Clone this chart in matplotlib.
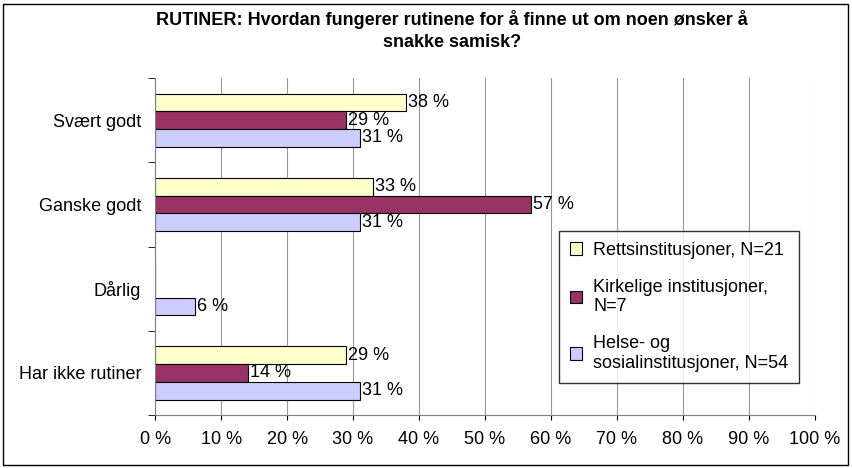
import matplotlib
matplotlib.use("Agg")
import matplotlib.pyplot as plt
from matplotlib.patches import Rectangle

categories = ["Svært godt", "Ganske godt", "Dårlig", "Har ikke rutiner"]
series = ["Rettsinstitusjoner, N=21", "Kirkelige institusjoner,\nN=7",
          "Helse- og\nsosialinstitusjoner, N=54"]
rett = [38, 33, 0, 29]
kirke = [29, 57, 0, 14]
helse = [31, 31, 6, 31]
colors = ["#FFFFCC", "#993366", "#CCCCFF"]

plt.rcParams['font.family'] = ['Liberation Sans', 'DejaVu Sans']
fig = plt.figure(figsize=(8.53, 4.68), dpi=100)
fig.patches.append(Rectangle((0.004, 0.006), 0.99, 0.985, transform=fig.transFigure,
                             fill=False, edgecolor="black", lw=1))
ax = fig.add_axes([0.182, 0.113, 0.773, 0.72])

h = 0.21
for i, (vals, col, name) in enumerate(zip([rett, kirke, helse], colors, series)):
    ys = [k + (i - 1) * h for k in range(len(categories))]
    ax.barh(ys, vals, height=h, color=col, edgecolor="black", lw=0.8, label=name)
    for y, v in zip(ys, vals):
        if v > 0:
            ax.text(v + 0.3, y, f"{v} %", va="center", ha="left", fontsize=13)

ax.set_xlim(0, 100)
ax.set_ylim(3.5, -0.5)
ax.set_xticks(range(0, 101, 10))
ax.set_xticklabels([f"{t} %" for t in range(0, 101, 10)], fontsize=13)
ax.set_yticks(range(len(categories)))
ax.set_yticklabels(categories, fontsize=13)
ax.set_yticks([-0.5, 0.5, 1.5, 2.5, 3.5], minor=True)
ax.tick_params(axis="y", which="major", length=0, pad=10)
ax.tick_params(axis="y", which="minor", length=5)
ax.tick_params(axis="x", pad=8)
ax.xaxis.grid(True, color="#999999", lw=0.8)
ax.set_axisbelow(True)
for s in ["top", "right"]:
    ax.spines[s].set_visible(False)
ax.spines["bottom"].set_color("#808080")
ax.spines["left"].set_color("#808080")

ax.legend(loc="lower right", bbox_to_anchor=(0.99, 0.07), fontsize=13, frameon=True,
          fancybox=False, edgecolor="black", labelspacing=1.1, handlelength=0.7,
          handleheight=0.7, borderpad=0.6, handletextpad=0.6)

fig.text(0.53, 0.935, "RUTINER: Hvordan fungerer rutinene for å finne ut om noen ønsker å\nsnakke samisk?",
         ha="center", va="center", fontsize=13, fontweight="bold", linespacing=1.4)
fig.savefig("out.png", dpi=100)
